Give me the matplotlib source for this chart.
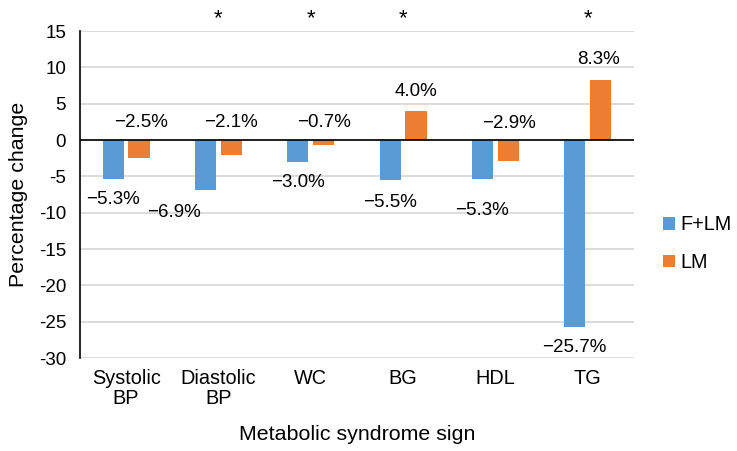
import numpy as np
import matplotlib
matplotlib.use("Agg")
import matplotlib.pyplot as plt

plt.rcParams['font.family'] = ['Liberation Sans', 'DejaVu Sans']
plt.rcParams['axes.unicode_minus'] = False

# data
categories = ['Systolic\nBP', 'Diastolic\nBP', 'WC', 'BG', 'HDL', 'TG']
f_lm = [-5.3, -6.9, -3.0, -5.5, -5.3, -25.7]
lm = [-2.5, -2.1, -0.7, 4.0, -2.9, 8.3]
significant = [False, True, True, True, False, True]

# label offsets in pixels (Excel placed these by hand)
f_lm_off = [(0, -21), (-32, -22), (0, -21), (0, -22), (0, -32), (0, -21)]
lm_off = [(2, 18), (0, 18), (0, 18), (0, 20), (1, 17), (-2, 20)]

blue = '#5B9BD5'
orange = '#ED7D31'

fig = plt.figure(figsize=(7.37, 4.51), dpi=100)
ax = fig.add_axes([0.1085, 0.206, 0.7515, 0.725])

x = np.arange(len(categories))
w = 0.23
ax.bar(x - 0.14, f_lm, w, color=blue, label='F+LM', zorder=3)
ax.bar(x + 0.14, lm, w, color=orange, label='LM', zorder=3)

ax.set_xlim(-0.5, len(categories) - 0.5)
ax.set_ylim(-30, 15)
ax.set_yticks(np.arange(-30, 16, 5))
ax.yaxis.grid(True, color='#D9D9D9', linewidth=1.3, zorder=0)
ax.axhline(0, color='black', linewidth=1.2, zorder=4)

for s in ['top', 'right', 'bottom']:
    ax.spines[s].set_visible(False)
ax.spines['left'].set_color('black')
ax.spines['left'].set_linewidth(1.2)
ax.tick_params(axis='y', length=0, labelsize=13.5, pad=10)
ax.tick_params(axis='x', length=0, labelsize=14.3, pad=8)
ax.set_xticks(x)
ax.set_xticklabels(categories, linespacing=1.05)

def lab(v):
    return ('\u2212' if v < 0 else '') + '%.1f%%' % abs(v)

for i in range(len(categories)):
    ax.annotate(lab(f_lm[i]), (x[i] - 0.14, f_lm[i]), xytext=f_lm_off[i],
                textcoords='offset pixels', ha='center', va='center', fontsize=13.5)
    base = lm[i] if lm[i] > 0 else 0
    ax.annotate(lab(lm[i]), (x[i] + 0.14, base), xytext=lm_off[i],
                textcoords='offset pixels', ha='center', va='center', fontsize=13.5)
    if significant[i]:
        ax.annotate('*', (x[i], 15), xytext=(0, 12), textcoords='offset pixels',
                    ha='center', va='center', fontsize=16, annotation_clip=False)

ax.set_ylabel('Percentage change', fontsize=15.4, labelpad=8)
ax.set_xlabel('Metabolic syndrome sign', fontsize=15.4, labelpad=12)

ax.legend(loc='center left', bbox_to_anchor=(1.02, 0.35), frameon=False,
          fontsize=14.3, handlelength=0.6, handleheight=0.6, handletextpad=0.3,
          labelspacing=0.95)

fig.savefig('out.png', dpi=100)
